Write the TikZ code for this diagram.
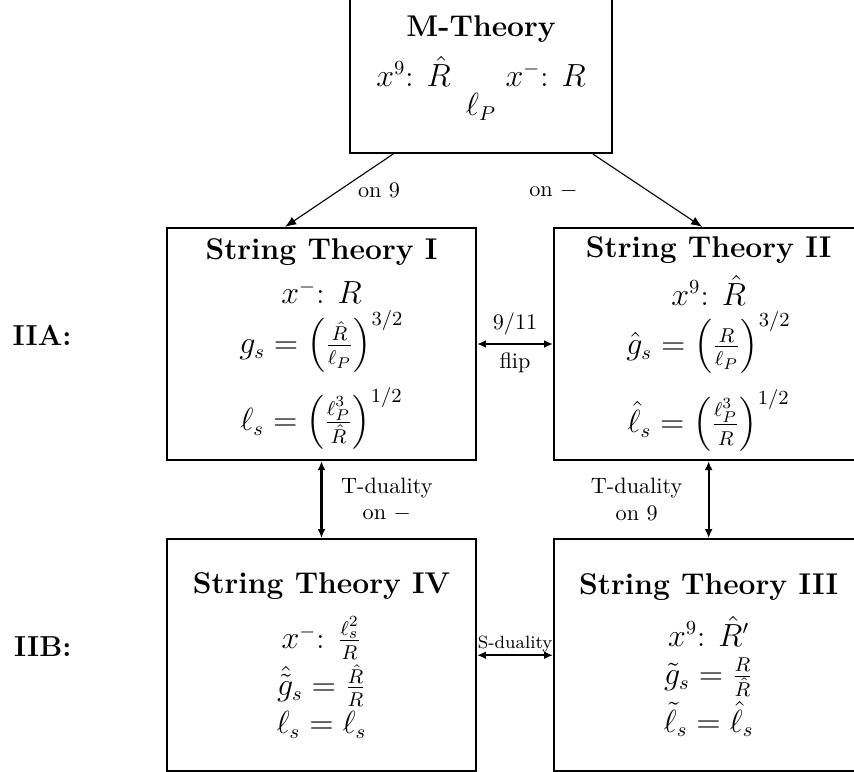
\documentclass[tikz,border=0pt]{standalone}
\usepackage{amsmath,amssymb}
\usepackage{tikz}
\usetikzlibrary{arrows.meta,positioning}

\begin{document}
\begin{tikzpicture}[x=0.45pt,y=-0.45pt,
  theory/.style={draw,line width=1pt,align=center,font=\fontsize{13.5}{16}\selectfont,minimum width=139pt,minimum height=104.4pt,inner sep=2pt},
  dual/.style={{Latex[length=4pt,width=3.5pt]}-{Latex[length=4pt,width=3.5pt]},line width=1pt},
  comp/.style={-{Latex[length=5pt,width=4pt]},line width=0.5pt},
  lbl/.style={font=\normalsize,align=center},
  ptype/.style={font=\fontsize{13}{15}\selectfont\bfseries}
]
\clip (0,0) rectangle (854,771);
\node[theory,minimum width=117.9pt,minimum height=76.5pt] (mth) at (481,68)
  {\textbf{M-Theory}\\[5pt] $x^9$: $\hat R$ \quad\enspace $x^-$: $R$\\[-3pt] $\ell_P$};
\node[theory] (st1) at (321.5,344)
  {\textbf{String Theory I}\\[4pt] $x^-$: $R$\\[2pt]
   $g_s=\left(\frac{\hat R}{\ell_P}\right)^{3/2}$\\[6pt]
   $\ell_s=\left(\frac{\ell_P^3}{\hat R}\right)^{1/2}$};
\node[theory,right=34.2pt of st1] (st2)
  {\textbf{String Theory II}\\[4pt] $x^9$: $\hat R$\\[2pt]
   $\hat g_s=\left(\frac{\vphantom{\hat R}R}{\ell_P}\right)^{3/2}$\\[6pt]
   $\hat\ell_s=\left(\frac{\ell_P^3}{\vphantom{\hat R}R}\right)^{1/2}$};
\node[theory,below=34.65pt of st1] (st4)
  {\textbf{String Theory IV}\\[7pt] $x^-$: $\frac{\ell_s^2}{R}$\\[1pt]
   $\hat{\tilde g}_s=\frac{\hat R}{R}$\\[1pt] $\ell_s=\ell_s$};
\node[theory,below=34.65pt of st2] (st3)
  {\textbf{String Theory III}\\[6pt] $x^9$: $\hat R'$\\[1pt]
   $\tilde g_s=\frac{R}{\hat R}$\\[1pt] $\tilde\ell_s=\hat\ell_s$};
\node[ptype,left=39pt of st1,yshift=4pt] (iia) {IIA:};
\node[ptype,left=39pt of st4,yshift=4pt] (iib) {IIB:};

% compactifications of M-theory
\draw[comp] ([xshift=-39.6pt]mth.south) -- ([xshift=-16.4pt]st1.north)
  node[midway,right=5pt,lbl] {on 9};
\draw[comp] ([xshift=50.4pt]mth.south) -- ([xshift=-2.9pt]st2.north)
  node[midway,left=28pt,lbl] {on $-$};

% dualities
\draw[dual] (st1) -- (st2) node[midway,above,lbl] {9/11} node[midway,below,lbl] {flip};
\draw[dual] (st1) -- (st4) node[midway,right=5pt,lbl] {T-duality\\on $-$};
\draw[dual] (st2) -- (st3) node[midway,left=8pt,lbl] {T-duality\\on 9};
\draw[dual] (st4) -- (st3) node[midway,above,font=\footnotesize,inner sep=1pt] {S-duality};
\end{tikzpicture}
\end{document}
